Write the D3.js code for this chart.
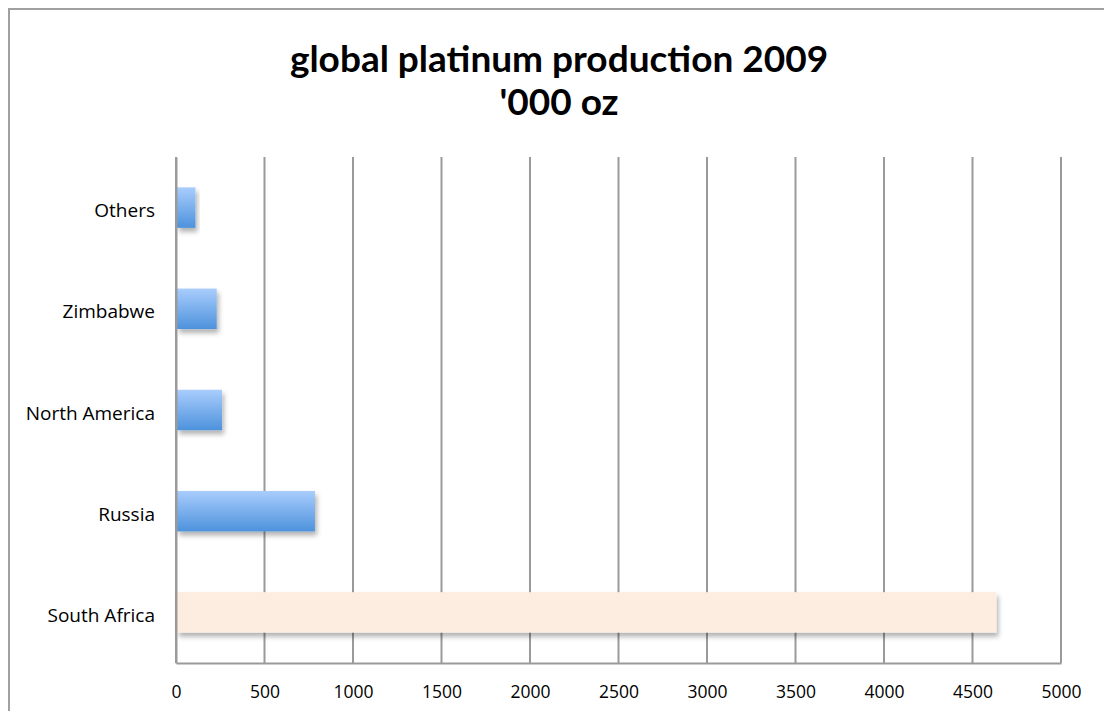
<!DOCTYPE html>
<html>
<head>
<meta charset="utf-8">
<script src="https://cdn.jsdelivr.net/npm/d3@7"></script>
<style>
  body { margin: 0; background: #fff; }
  svg { display: block; }
  .tick text { font-family: "Open Sans", Lato, sans-serif; font-size: 17.5px; fill: #000; }
  .y_axis .tick text { font-size: 19px; }
</style>
</head>
<body>
<svg id="chart" width="1104" height="711"></svg>
<script>
// data
var categories = ["South Africa", "Russia", "North America", "Zimbabwe", "Others"];
var values = [4635, 785, 260, 230, 110];
var xTicks = [0, 500, 1000, 1500, 2000, 2500, 3000, 3500, 4000, 4500, 5000];
var titleLines = ["global platinum production 2009", "'000 oz"];

var draw = {
    margin: {top: 157, left: 176, right: 43, bottom: 48},

    start: function () {
        var svg = d3.select("#chart");
        var W = +svg.attr("width"), H = +svg.attr("height");
        var m = draw.margin;
        var width = W - m.left - m.right,
            height = H - m.top - m.bottom;

        // outer frame (cut off at right and bottom)
        svg.append("rect")
            .attr("x", 9).attr("y", 9)
            .attr("width", W + 20).attr("height", H + 20)
            .attr("fill", "#fff")
            .attr("stroke", "#a0a0a0")
            .attr("stroke-width", 2);

        var defs = svg.append("defs");
        var grad = defs.append("linearGradient")
            .attr("id", "blueGrad")
            .attr("x1", 0).attr("y1", 0).attr("x2", 0).attr("y2", 1);
        grad.append("stop").attr("offset", "0%").attr("stop-color", "#a9cdfd");
        grad.append("stop").attr("offset", "100%").attr("stop-color", "#4d92dc");

        var shadow = defs.append("filter").attr("id", "shadow")
            .attr("x", "-10%").attr("y", "-20%").attr("width", "130%").attr("height", "160%");
        shadow.append("feDropShadow")
            .attr("dx", 2).attr("dy", 4)
            .attr("stdDeviation", 2.5)
            .attr("flood-color", "#000")
            .attr("flood-opacity", 0.3);

        // title
        svg.append("text")
            .attr("x", 559).attr("y", 72)
            .attr("text-anchor", "middle")
            .style("font-family", "Lato, 'Open Sans', sans-serif")
            .style("font-weight", "bold")
            .style("font-size", "37px")
            .selectAll("tspan")
            .data(titleLines)
            .enter().append("tspan")
            .attr("x", 559)
            .attr("dy", function (d, i) { return i === 0 ? 0 : 43; })
            .text(function (d) { return d; });

        var x = d3.scaleLinear()
            .domain([0, 5000])
            .range([0, width]);
        var y = d3.scaleBand()
            .domain(categories.slice().reverse())
            .range([0, height])
            .paddingInner(0.6)
            .paddingOuter(0.3);

        var g = svg.append("g")
            .attr("transform", "translate(" + m.left + "," + m.top + ")");

        // vertical gridlines
        g.append("g")
            .attr("class", "grid")
            .selectAll("line")
            .data(xTicks)
            .enter().append("line")
            .attr("x1", function (d) { return x(d); })
            .attr("x2", function (d) { return x(d); })
            .attr("y1", 0).attr("y2", height)
            .attr("stroke", "#9a9a9a")
            .attr("stroke-width", 2);

        // bars
        g.append("g")
            .attr("class", "bars")
            .selectAll("rect")
            .data(categories.map(function (c, i) { return {label: c, value: values[i]}; }))
            .enter().append("rect")
            .attr("x", 1)
            .attr("y", function (d) { return y(d.label); })
            .attr("width", function (d) { return x(d.value) - 1; })
            .attr("height", y.bandwidth())
            .attr("fill", function (d) { return d.label === "South Africa" ? "#fdede1" : "url(#blueGrad)"; })
            .attr("filter", "url(#shadow)");

        // x axis
        var xAxis = g.append("g")
            .attr("class", "x_axis")
            .attr("transform", "translate(0," + height + ")")
            .call(d3.axisBottom(x).tickValues(xTicks).tickFormat(d3.format("d")).tickSize(0).tickPadding(23));
        xAxis.select(".domain").attr("stroke", "#9a9a9a").attr("stroke-width", 2);

        // y axis
        var yAxis = g.append("g")
            .attr("class", "y_axis")
            .call(d3.axisLeft(y).tickSize(0).tickPadding(21));
        yAxis.select(".domain").attr("stroke", "#9a9a9a").attr("stroke-width", 2);
        yAxis.selectAll(".tick text").attr("dy", "0.5em");
    }
};

draw.start();
</script>
</body>
</html>
